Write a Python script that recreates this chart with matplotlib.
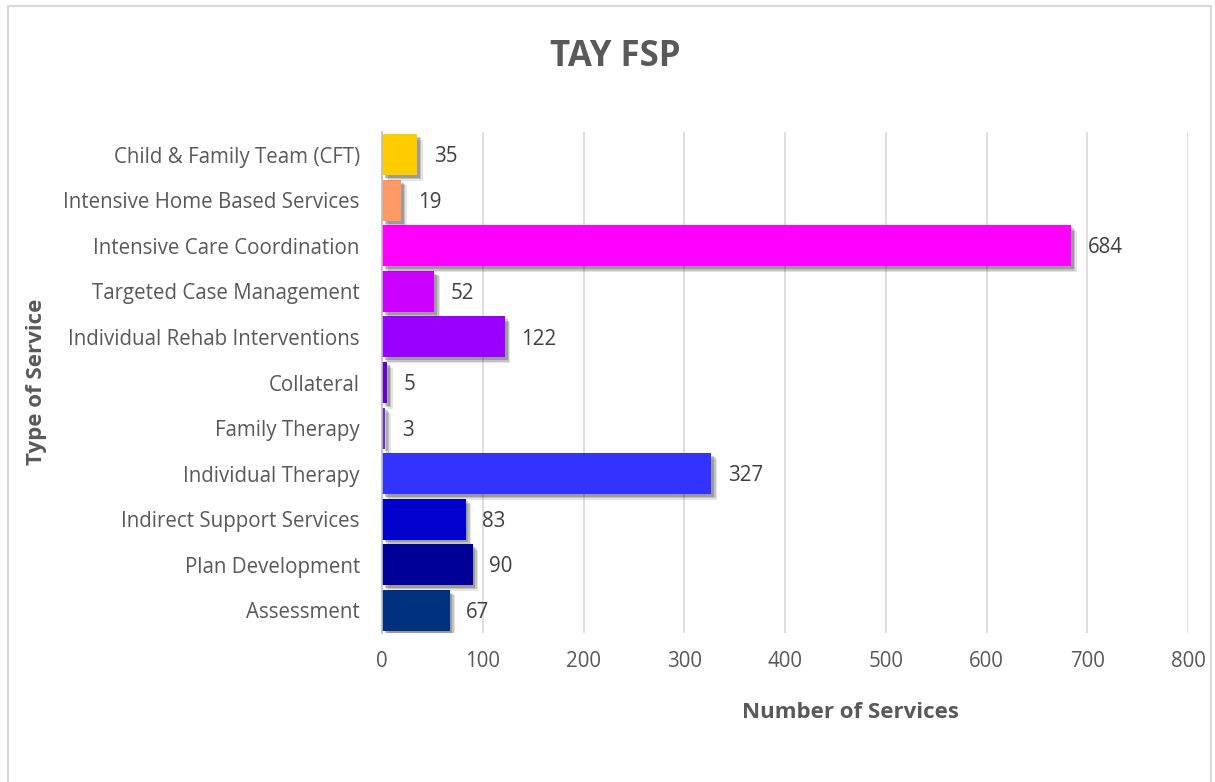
import matplotlib
matplotlib.use('Agg')
import matplotlib.pyplot as plt
import matplotlib.patheffects as pe
from matplotlib.patches import Rectangle

# services, listed bottom to top
services = ["Assessment", "Plan Development", "Indirect Support Services",
            "Individual Therapy", "Family Therapy", "Collateral",
            "Individual Rehab Interventions", "Targeted Case Management",
            "Intensive Care Coordination", "Intensive Home Based Services",
            "Child & Family Team (CFT)"]
counts = [67, 90, 83, 327, 3, 5, 122, 52, 684, 19, 35]
bar_colors = ["#00317F", "#000099", "#0000CC", "#3333FF", "#6633CC", "#6600CC",
              "#9900FF", "#CC00FF", "#FF00FF", "#FF9966", "#FFCC00"]
x_ticks = [0, 100, 200, 300, 400, 500, 600, 700, 800]

plt.rcParams['font.family'] = ['Open Sans', 'DejaVu Sans']
text_grey = "#595959"

fig = plt.figure(figsize=(12.15, 7.82), dpi=100)
ax = fig.add_axes([0.3144, 0.1905, 0.6634, 0.6407])

# soft drop shadow built from a few faint offset copies
shadow = [pe.SimplePatchShadow(offset=(4, -4), alpha=0.10, shadow_rgbFace="#000000"),
          pe.SimplePatchShadow(offset=(3, -3), alpha=0.15, shadow_rgbFace="#000000"),
          pe.SimplePatchShadow(offset=(2, -2), alpha=0.20, shadow_rgbFace="#000000"),
          pe.Normal()]
bars = ax.barh(range(len(services)), counts, height=0.9, color=bar_colors, zorder=3)
for b in bars:
    b.set_path_effects(shadow)

for i, v in enumerate(counts):
    ax.annotate(str(v), (v, i), xytext=(12, -1.5), textcoords="offset points",
                va="center", ha="left", fontsize=14.8, color="#404040", zorder=4)

ax.set_xlim(0, 800)
ax.set_ylim(-0.5, len(services) - 0.5)
ax.set_xticks(x_ticks)
ax.set_yticks(range(len(services)))
ax.set_yticklabels(services)
ax.tick_params(axis="both", length=0, labelsize=14.8, labelcolor=text_grey)
ax.tick_params(axis="y", pad=16)
ax.tick_params(axis="x", pad=13)
ax.grid(axis="x", color="#d9d9d9", linewidth=1.2, zorder=0)
for s in ["top", "right", "bottom"]:
    ax.spines[s].set_visible(False)
ax.spines["left"].set_color("#bfbfbf")
ax.spines["left"].set_linewidth(1.2)
ax.spines["left"].set_zorder(5)

fig.text(0.506, 0.927, "TAY FSP", ha="center", va="center", fontsize=25,
         fontweight="bold", color=text_grey)
fig.text(0.70, 0.089, "Number of Services", ha="center", va="center",
         fontsize=16, fontweight="bold", color=text_grey)
fig.text(0.030, 0.512, "Type of Service", ha="center", va="center", rotation=90,
         fontsize=16, fontweight="bold", color=text_grey)

# outer chart frame
fig.patches.append(Rectangle((0.0066, -0.01), 0.99, 1.002, transform=fig.transFigure,
                             fill=False, edgecolor="#d9d9d9", linewidth=1.5))

fig.savefig("out.png", dpi=100, facecolor="white")
